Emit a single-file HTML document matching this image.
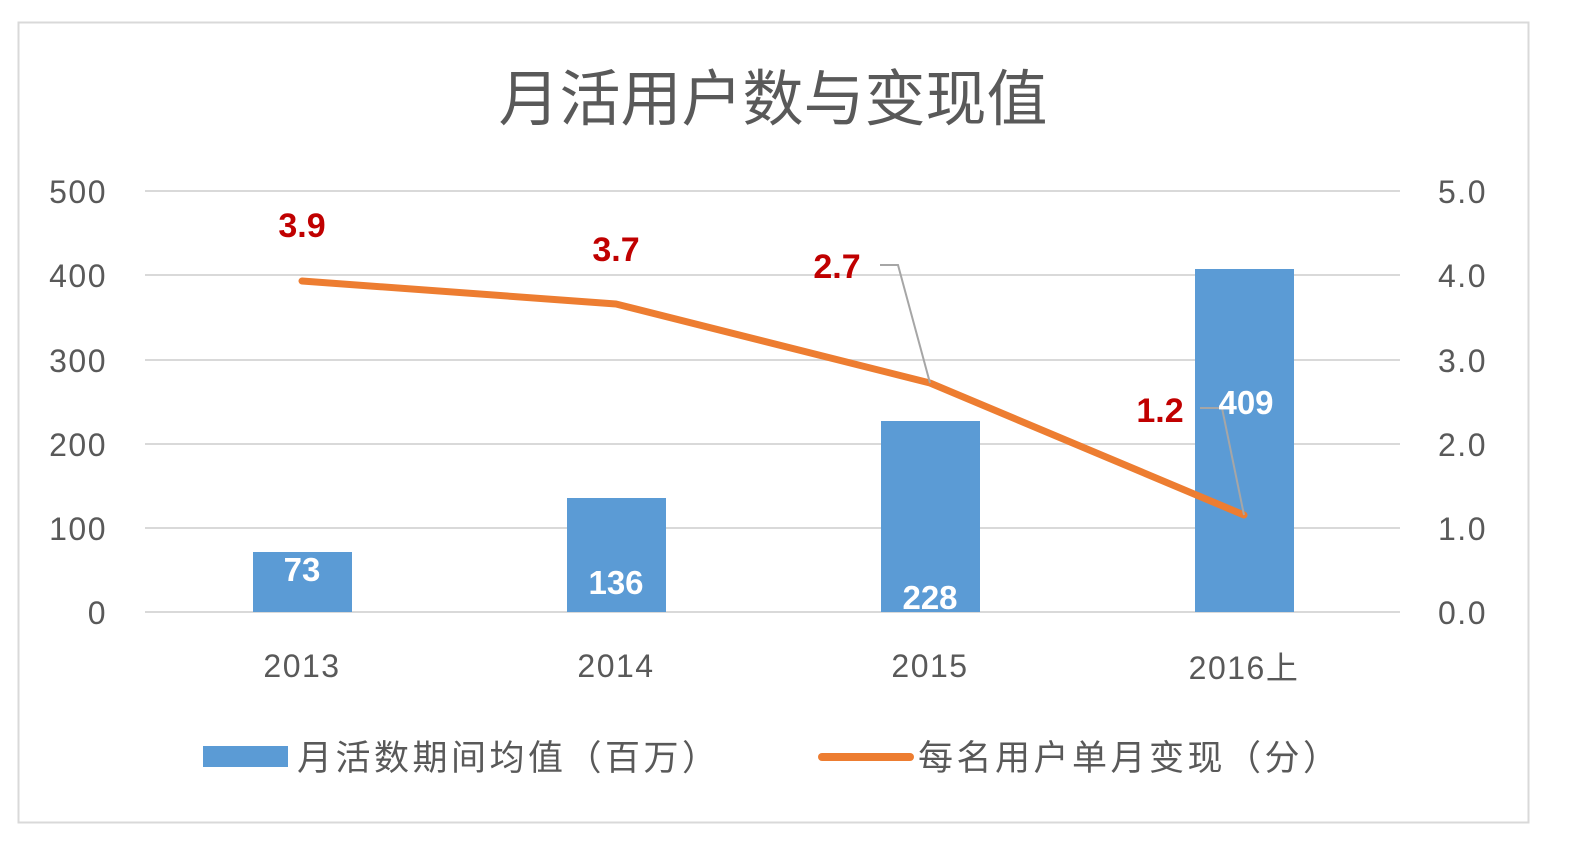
<!DOCTYPE html>
<html><head><meta charset="utf-8"><style>
html,body{margin:0;padding:0;background:#fff;}
svg{display:block;}
text{font-family:"Liberation Sans","Noto Sans CJK SC",sans-serif;}
</style></head><body>
<svg width="1573" height="853" viewBox="0 0 1573 853" xmlns="http://www.w3.org/2000/svg">
<rect x="0" y="0" width="1573" height="853" fill="#fff"/>
<rect x="18.5" y="22.5" width="1510" height="800" fill="#fff" stroke="#d9d9d9" stroke-width="2"/>
<text x="773" y="120" font-size="61" fill="#595959" text-anchor="middle">月活用户数与变现值</text>
<g stroke="#d9d9d9" stroke-width="2">
<line x1="145" y1="191" x2="1400" y2="191"/>
<line x1="145" y1="275" x2="1400" y2="275"/>
<line x1="145" y1="360" x2="1400" y2="360"/>
<line x1="145" y1="444" x2="1400" y2="444"/>
<line x1="145" y1="528" x2="1400" y2="528"/>
<line x1="145" y1="612" x2="1400" y2="612"/>
</g>
<g font-size="32" fill="#595959" text-anchor="end" letter-spacing="1.5">
<text x="107" y="203">500</text><text x="107" y="287">400</text><text x="107" y="372">300</text>
<text x="107" y="456">200</text><text x="107" y="540">100</text><text x="107" y="624">0</text>
</g>
<g font-size="32" fill="#595959" text-anchor="start" letter-spacing="1.5">
<text x="1438" y="203">5.0</text><text x="1438" y="287">4.0</text><text x="1438" y="372">3.0</text>
<text x="1438" y="456">2.0</text><text x="1438" y="540">1.0</text><text x="1438" y="624">0.0</text>
</g>
<g fill="#5b9bd5">
<rect x="253" y="552" width="99" height="60"/>
<rect x="567" y="498" width="99" height="114"/>
<rect x="881" y="421" width="99" height="191"/>
<rect x="1195" y="269" width="99" height="343"/>
</g>
<g font-size="32" fill="#595959" text-anchor="middle" letter-spacing="1.5">
<text x="302" y="677">2013</text><text x="616" y="677">2014</text><text x="930" y="677">2015</text><text x="1244" y="679">2016上</text>
</g>
<polyline points="302,281 616,304 930,383 1244,515" fill="none" stroke="#ed7d31" stroke-width="7" stroke-linejoin="round" stroke-linecap="round"/>
<g fill="none" stroke="#a6a6a6" stroke-width="2">
<polyline points="880,265 898,265 930,383"/>
<polyline points="1200,408 1222,408 1244,515"/>
</g>
<g font-size="33" font-weight="bold" fill="#fff" text-anchor="middle">
<text x="302" y="581">73</text><text x="616" y="594">136</text><text x="930" y="609">228</text><text x="1246" y="414">409</text>
</g>
<g font-size="34" font-weight="bold" fill="#c00000" text-anchor="middle">
<text x="302" y="237">3.9</text><text x="616" y="261">3.7</text><text x="837" y="278">2.7</text><text x="1160" y="422">1.2</text>
</g>
<rect x="203" y="746" width="85" height="21" fill="#5b9bd5"/>
<text x="297" y="770" font-size="35" fill="#595959" letter-spacing="3.5">月活数期间均值（百万）</text>
<line x1="822" y1="757" x2="910" y2="757" stroke="#ed7d31" stroke-width="8" stroke-linecap="round"/>
<text x="918" y="770" font-size="35" fill="#595959" letter-spacing="3.5">每名用户单月变现（分）</text>
</svg>
</body></html>
